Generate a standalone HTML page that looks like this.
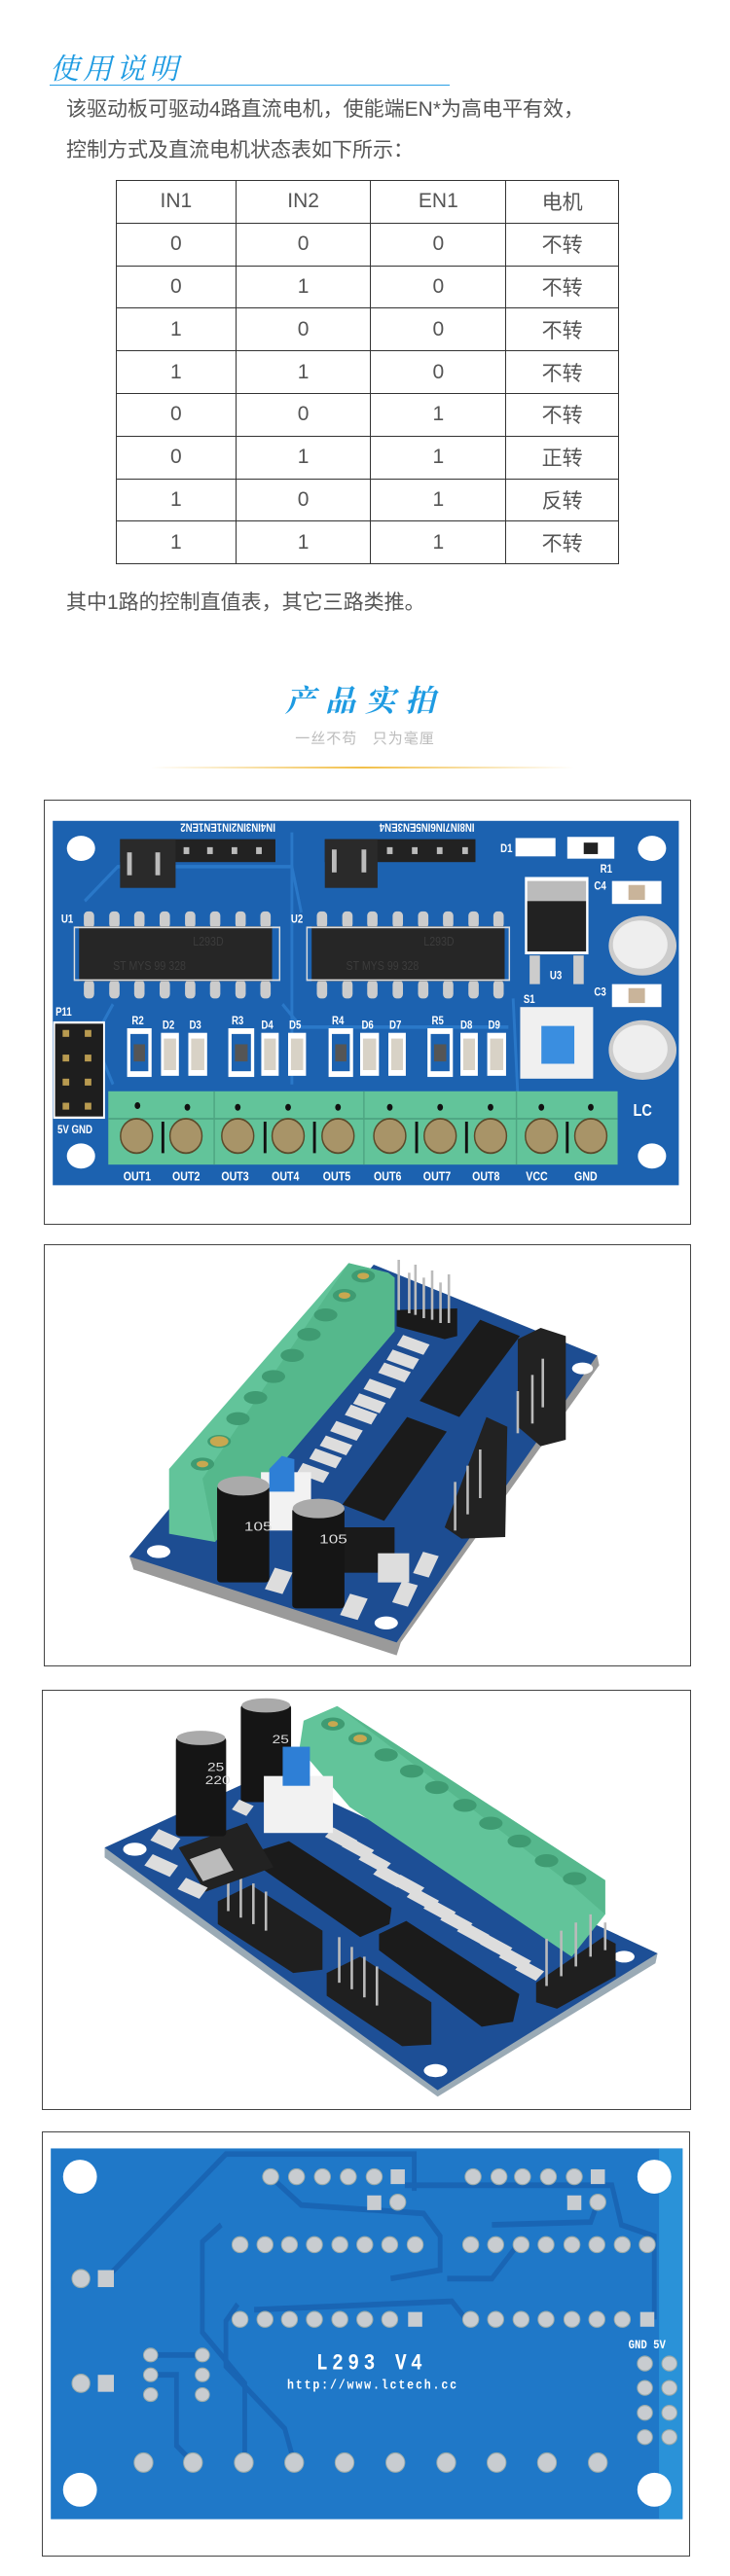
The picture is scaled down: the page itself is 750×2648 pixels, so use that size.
<!DOCTYPE html>
<html><head><meta charset="utf-8"><style>
*{margin:0;padding:0;box-sizing:border-box}
body{width:750px;height:2648px;background:#fff;position:relative;overflow:hidden;font-family:"Liberation Sans","Noto Sans CJK SC",sans-serif}
.a{position:absolute}
.h1{left:51px;top:50px;font-size:30px;color:#1e9be2;letter-spacing:4px;font-family:"Noto Serif CJK SC","Noto Sans CJK SC",serif;font-style:italic;line-height:36px}
.ul{left:51px;top:87px;width:411px;height:1px;background:#2aa0e6}
.p{left:68px;font-size:21px;color:#555;line-height:42px;white-space:nowrap}
table{position:absolute;left:119px;top:185px;width:517px;border-collapse:collapse}
td{border:1px solid #333;height:43.8px;text-align:center;font-size:21px;color:#555;padding:0}
.box{position:absolute;border:1.5px solid #444}
svg{position:absolute}
</style></head><body>
<div class="a h1">使用说明</div>
<div class="a ul"></div>
<div class="a p" style="top:92px">该驱动板可驱动4路直流电机，使能端EN*为高电平有效，</div>
<div class="a p" style="top:134px">控制方式及直流电机状态表如下所示：</div>
<table>
<colgroup><col style="width:123px"><col style="width:139px"><col style="width:139px"><col style="width:116px"></colgroup>
<tr><td>IN1</td><td>IN2</td><td>EN1</td><td>电机</td></tr>
<tr><td>0</td><td>0</td><td>0</td><td>不转</td></tr>
<tr><td>0</td><td>1</td><td>0</td><td>不转</td></tr>
<tr><td>1</td><td>0</td><td>0</td><td>不转</td></tr>
<tr><td>1</td><td>1</td><td>0</td><td>不转</td></tr>
<tr><td>0</td><td>0</td><td>1</td><td>不转</td></tr>
<tr><td>0</td><td>1</td><td>1</td><td>正转</td></tr>
<tr><td>1</td><td>0</td><td>1</td><td>反转</td></tr>
<tr><td>1</td><td>1</td><td>1</td><td>不转</td></tr>
</table>
<div class="a p" style="top:599px">其中1路的控制直值表，其它三路类推。</div>
<div class="a" style="left:0;width:750px;top:698px;text-align:center;font-size:31px;color:#1e9be2;letter-spacing:10px;font-family:'Noto Serif CJK SC','Noto Sans CJK SC',serif;font-style:italic;font-weight:bold;line-height:40px">产品实拍</div>
<div class="a" style="left:0;width:750px;top:750px;text-align:center;font-size:15px;color:#bbb;line-height:20px;letter-spacing:1px">一丝不苟&nbsp;&nbsp;&nbsp;只为毫厘</div>
<div class="a" style="left:155px;top:788px;width:435px;height:2px;background:linear-gradient(90deg,rgba(245,200,80,0),#f2c04a 50%,rgba(245,200,80,0))"></div>

<!-- Box 1 -->
<div class="box" style="left:45px;top:822px;width:665px;height:437px"></div>
<svg style="left:45px;top:822px" width="665" height="437" viewBox="93 3 1375 742" preserveAspectRatio="none">
<rect x="112" y="40" width="1330" height="636" fill="#1c62b0"/>
<g fill="none" stroke="#2a78c8" stroke-width="6"><path d="M180 180 L250 120 L620 120 L640 200"/><path d="M600 360 L640 400 L1080 400"/><path d="M240 360 L200 420 L240 500"/><path d="M1090 350 L1100 520"/><path d="M620 60 L620 500"/></g>
<g fill="#fff"><ellipse cx="172" cy="88" rx="30" ry="22"/><ellipse cx="1385" cy="88" rx="30" ry="22"/><ellipse cx="172" cy="625" rx="30" ry="22"/><ellipse cx="1385" cy="625" rx="30" ry="22"/></g>
<g fill="#fff" font-size="20" font-family="Liberation Sans" font-weight="bold">
<text transform="translate(585,45) rotate(180)" x="0" y="0">IN4IN3IN2IN1EN1EN2</text>
<text transform="translate(1008,45) rotate(180)">IN8IN7IN6IN5EN3EN4</text>
<text x="130" y="218">U1</text><text x="618" y="218">U2</text><text x="1168" y="316">U3</text><text x="1112" y="358">S1</text>
<text x="118" y="380">P11</text><text x="1262" y="160">C4</text><text x="1262" y="345">C3</text><text x="1275" y="130">R1</text><text x="1063" y="95">D1</text>
<text x="280" y="395">R2</text><text x="345" y="403">D2</text><text x="402" y="403">D3</text>
<text x="492" y="395">R3</text><text x="555" y="403">D4</text><text x="614" y="403">D5</text>
<text x="705" y="395">R4</text><text x="768" y="403">D6</text><text x="827" y="403">D7</text>
<text x="917" y="395">R5</text><text x="978" y="403">D8</text><text x="1037" y="403">D9</text>
<text x="122" y="585">5V GND</text>
<g font-size="22"><text x="262" y="668">OUT1</text><text x="366" y="668">OUT2</text><text x="470" y="668">OUT3</text><text x="577" y="668">OUT4</text><text x="686" y="668">OUT5</text><text x="794" y="668">OUT6</text><text x="899" y="668">OUT7</text><text x="1003" y="668">OUT8</text><text x="1117" y="668">VCC</text><text x="1220" y="668">GND</text></g>
<text x="1345" y="555" font-size="30">LC</text>
</g>
<!-- headers -->
<rect x="255" y="72" width="330" height="40" fill="#222"/><rect x="255" y="72" width="118" height="85" fill="#2a2a2a"/>
<rect x="690" y="72" width="320" height="40" fill="#222"/><rect x="690" y="72" width="112" height="85" fill="#2a2a2a"/>
<g fill="#bbb"><rect x="390" y="86" width="12" height="12"/><rect x="440" y="86" width="12" height="12"/><rect x="492" y="86" width="12" height="12"/><rect x="544" y="86" width="12" height="12"/><rect x="822" y="86" width="12" height="12"/><rect x="875" y="86" width="12" height="12"/><rect x="928" y="86" width="12" height="12"/><rect x="982" y="86" width="12" height="12"/>
<rect x="270" y="95" width="10" height="40"/><rect x="330" y="95" width="10" height="40"/><rect x="705" y="90" width="10" height="40"/><rect x="768" y="90" width="10" height="40"/></g>
<!-- chips -->
<g fill="#ccc">
<rect x="178" y="198" width="22" height="30" rx="8"/><rect x="232" y="198" width="22" height="30" rx="8"/><rect x="285" y="198" width="22" height="30" rx="8"/><rect x="339" y="198" width="22" height="30" rx="8"/><rect x="393" y="198" width="22" height="30" rx="8"/><rect x="446" y="198" width="22" height="30" rx="8"/><rect x="500" y="198" width="22" height="30" rx="8"/><rect x="553" y="198" width="22" height="30" rx="8"/>
<rect x="178" y="318" width="22" height="32" rx="8"/><rect x="232" y="318" width="22" height="32" rx="8"/><rect x="285" y="318" width="22" height="32" rx="8"/><rect x="339" y="318" width="22" height="32" rx="8"/><rect x="393" y="318" width="22" height="32" rx="8"/><rect x="446" y="318" width="22" height="32" rx="8"/><rect x="500" y="318" width="22" height="32" rx="8"/><rect x="553" y="318" width="22" height="32" rx="8"/>
<rect x="673" y="198" width="22" height="30" rx="8"/><rect x="727" y="198" width="22" height="30" rx="8"/><rect x="780" y="198" width="22" height="30" rx="8"/><rect x="834" y="198" width="22" height="30" rx="8"/><rect x="888" y="198" width="22" height="30" rx="8"/><rect x="941" y="198" width="22" height="30" rx="8"/><rect x="995" y="198" width="22" height="30" rx="8"/><rect x="1048" y="198" width="22" height="30" rx="8"/>
<rect x="673" y="318" width="22" height="32" rx="8"/><rect x="727" y="318" width="22" height="32" rx="8"/><rect x="780" y="318" width="22" height="32" rx="8"/><rect x="834" y="318" width="22" height="32" rx="8"/><rect x="888" y="318" width="22" height="32" rx="8"/><rect x="941" y="318" width="22" height="32" rx="8"/><rect x="995" y="318" width="22" height="32" rx="8"/><rect x="1048" y="318" width="22" height="32" rx="8"/>
</g>
<rect x="168" y="224" width="410" height="96" fill="#262626"/><rect x="662" y="224" width="410" height="96" fill="#262626"/>
<g fill="none" stroke="#ddd" stroke-width="3"><rect x="158" y="226" width="436" height="92"/><rect x="652" y="226" width="430" height="92"/></g>
<g fill="#3c3c3c" font-size="22" font-family="Liberation Sans"><text x="410" y="258">L293D</text><text x="900" y="258">L293D</text><text x="240" y="300">ST  MYS 99 328</text><text x="735" y="300">ST  MYS 99 328</text></g>
<!-- regulator -->
<rect x="1115" y="138" width="135" height="135" fill="#fff"/><rect x="1120" y="145" width="125" height="35" fill="#bbb"/><rect x="1120" y="180" width="125" height="88" fill="#222"/>
<rect x="1125" y="275" width="22" height="50" fill="#ccc"/><rect x="1218" y="275" width="22" height="50" fill="#ccc"/>
<!-- caps -->
<ellipse cx="1365" cy="258" rx="72" ry="52" fill="#ccc"/><ellipse cx="1360" cy="256" rx="58" ry="42" fill="#eee"/>
<ellipse cx="1365" cy="440" rx="72" ry="52" fill="#ccc"/><ellipse cx="1360" cy="438" rx="58" ry="42" fill="#eee"/>
<g fill="#fff"><rect x="1300" y="145" width="105" height="40"/><rect x="1300" y="325" width="105" height="40"/><rect x="1095" y="70" width="85" height="32"/><rect x="1205" y="68" width="100" height="38"/></g>
<g fill="#c9b49a"><rect x="1335" y="152" width="35" height="26"/><rect x="1335" y="332" width="35" height="26"/></g><rect x="1240" y="78" width="30" height="20" fill="#222"/>
<!-- switch -->
<rect x="1105" y="365" width="155" height="125" fill="#f0f0f0"/><rect x="1150" y="398" width="70" height="66" fill="#3a8ee0"/>
<!-- P11 -->
<rect x="113" y="390" width="110" height="170" fill="#fff"/><rect x="117" y="394" width="102" height="162" fill="#1e1e1e"/>
<g fill="#b89a50"><rect x="133" y="405" width="14" height="12"/><rect x="180" y="405" width="14" height="12"/><rect x="133" y="448" width="14" height="12"/><rect x="180" y="448" width="14" height="12"/><rect x="133" y="490" width="14" height="12"/><rect x="180" y="490" width="14" height="12"/><rect x="133" y="532" width="14" height="12"/><rect x="180" y="532" width="14" height="12"/></g>
<!-- small parts -->
<g fill="#fff">
<rect x="270" y="402" width="52" height="85"/><rect x="342" y="410" width="38" height="75"/><rect x="400" y="410" width="40" height="75"/>
<rect x="485" y="402" width="55" height="85"/><rect x="555" y="410" width="37" height="75"/><rect x="612" y="410" width="38" height="75"/>
<rect x="698" y="402" width="52" height="85"/><rect x="765" y="410" width="40" height="75"/><rect x="825" y="410" width="37" height="75"/>
<rect x="908" y="402" width="54" height="85"/><rect x="978" y="410" width="37" height="75"/><rect x="1035" y="410" width="40" height="75"/>
</g>
<g fill="#1c62b0"><rect x="277" y="412" width="38" height="65"/><rect x="492" y="412" width="41" height="65"/><rect x="705" y="412" width="38" height="65"/><rect x="915" y="412" width="40" height="65"/></g>
<g fill="#555"><rect x="284" y="430" width="24" height="30"/><rect x="499" y="430" width="27" height="30"/><rect x="712" y="430" width="24" height="30"/><rect x="922" y="430" width="26" height="30"/></g>
<g fill="#d8d2c6"><rect x="348" y="420" width="26" height="55"/><rect x="406" y="420" width="28" height="55"/><rect x="561" y="420" width="25" height="55"/><rect x="618" y="420" width="26" height="55"/><rect x="771" y="420" width="28" height="55"/><rect x="831" y="420" width="25" height="55"/><rect x="984" y="420" width="25" height="55"/><rect x="1041" y="420" width="28" height="55"/></g>
<!-- terminal block -->
<rect x="230" y="512" width="1082" height="128" fill="#62c49a"/>
<g stroke="#4ea582" stroke-width="3"><line x1="455" y1="512" x2="455" y2="640"/><line x1="773" y1="512" x2="773" y2="640"/><line x1="1097" y1="512" x2="1097" y2="640"/><line x1="230" y1="560" x2="1312" y2="560"/></g>
<g fill="#111"><circle cx="292" cy="537" r="6"/><circle cx="398" cy="540" r="6"/><circle cx="505" cy="540" r="6"/><circle cx="612" cy="540" r="6"/><circle cx="718" cy="540" r="6"/><circle cx="828" cy="540" r="6"/><circle cx="935" cy="540" r="6"/><circle cx="1042" cy="540" r="6"/><circle cx="1150" cy="540" r="6"/><circle cx="1255" cy="540" r="6"/>
<rect x="343" y="565" width="6" height="55"/><rect x="560" y="565" width="6" height="55"/><rect x="665" y="565" width="6" height="55"/><rect x="882" y="565" width="6" height="55"/><rect x="988" y="565" width="6" height="55"/><rect x="1202" y="565" width="6" height="55"/></g>
<g fill="#a89468" stroke="#5a4a2a" stroke-width="3"><ellipse cx="290" cy="590" rx="34" ry="30"/><ellipse cx="395" cy="590" rx="34" ry="30"/><ellipse cx="505" cy="590" rx="34" ry="30"/><ellipse cx="612" cy="590" rx="34" ry="30"/><ellipse cx="718" cy="590" rx="34" ry="30"/><ellipse cx="828" cy="590" rx="34" ry="30"/><ellipse cx="935" cy="590" rx="34" ry="30"/><ellipse cx="1042" cy="590" rx="34" ry="30"/><ellipse cx="1150" cy="590" rx="34" ry="30"/><ellipse cx="1255" cy="590" rx="34" ry="30"/></g>
</svg>

<!-- Box 2 -->
<div class="box" style="left:45px;top:1279px;width:665px;height:434px"></div>
<svg style="left:45px;top:1280px" width="665" height="440" viewBox="0 0 1550 1320" preserveAspectRatio="none">
<polygon points="205,960 215,1000 845,1265 855,1225 1330,370 1325,340 790,65" fill="#9a9a9a"/>
<polygon points="205,960 845,1225 1325,340 790,60" fill="#1d4d92"/>
<g fill="#fff"><ellipse cx="275" cy="945" rx="28" ry="20"/><ellipse cx="820" cy="1165" rx="28" ry="20"/><ellipse cx="1290" cy="380" rx="25" ry="18"/></g>
<g fill="#ddd"><rect x="850" y="290" width="70" height="35" transform="rotate(25 885 307)"/><rect x="825" y="335" width="70" height="35" transform="rotate(25 860 352)"/><rect x="805" y="375" width="70" height="35" transform="rotate(25 840 392)"/><rect x="770" y="425" width="70" height="35" transform="rotate(25 805 442)"/><rect x="745" y="470" width="70" height="35" transform="rotate(25 780 487)"/><rect x="725" y="505" width="70" height="35" transform="rotate(25 760 522)"/><rect x="690" y="555" width="70" height="35" transform="rotate(25 725 572)"/><rect x="665" y="600" width="70" height="35" transform="rotate(25 700 617)"/><rect x="640" y="640" width="70" height="35" transform="rotate(25 675 657)"/><rect x="610" y="685" width="70" height="35" transform="rotate(25 645 702)"/></g>
<polygon points="300,690 730,55 825,85 840,100 840,265 410,915 300,890" fill="#62c49a"/>
<polygon points="730,55 825,85 840,100 840,265 410,915 380,720" fill="#55b88c"/>
<g fill="#3f9b72"><ellipse cx="765" cy="95" rx="28" ry="20"/><ellipse cx="720" cy="155" rx="28" ry="20"/><ellipse cx="675" cy="215" rx="28" ry="20"/><ellipse cx="635" cy="275" rx="28" ry="20"/><ellipse cx="595" cy="340" rx="28" ry="20"/><ellipse cx="550" cy="405" rx="28" ry="20"/><ellipse cx="507" cy="470" rx="28" ry="20"/><ellipse cx="465" cy="535" rx="28" ry="20"/><ellipse cx="420" cy="605" rx="28" ry="20"/><ellipse cx="380" cy="675" rx="28" ry="20"/></g>
<g fill="#c8a850"><ellipse cx="765" cy="95" rx="14" ry="10"/><ellipse cx="720" cy="155" rx="14" ry="10"/><ellipse cx="420" cy="605" rx="22" ry="16"/><ellipse cx="380" cy="675" rx="14" ry="10"/></g>
<polygon points="845,200 990,195 990,280 960,290 845,250" fill="#1a1a1a"/>
<g stroke="#bbb" stroke-width="6"><line x1="850" y1="45" x2="850" y2="200"/><line x1="875" y1="85" x2="875" y2="210"/><line x1="890" y1="60" x2="890" y2="215"/><line x1="910" y1="100" x2="910" y2="225"/><line x1="930" y1="78" x2="930" y2="230"/><line x1="950" y1="115" x2="950" y2="240"/><line x1="970" y1="90" x2="970" y2="240"/></g>
<polygon points="900,480 1045,230 1140,280 995,530" fill="#1b1b1b"/>
<polygon points="715,800 870,530 965,575 815,850" fill="#1b1b1b"/>
<polygon points="1135,290 1190,255 1250,280 1250,600 1190,620 1135,560" fill="#222"/>
<polygon points="960,870 1060,530 1110,560 1105,900 1000,905" fill="#222"/>
<g stroke="#bbb" stroke-width="6"><line x1="1135" y1="450" x2="1135" y2="580"/><line x1="1170" y1="400" x2="1170" y2="550"/><line x1="1195" y1="350" x2="1195" y2="500"/><line x1="985" y1="730" x2="985" y2="880"/><line x1="1015" y1="680" x2="1015" y2="830"/><line x1="1045" y1="630" x2="1045" y2="780"/></g>
<rect x="520" y="700" width="120" height="180" fill="#f2f2f2"/><polygon points="540,690 570,650 600,660 600,760 540,760" fill="#2e7fd6"/>
<rect x="715" y="870" width="125" height="140" fill="#1a1a1a"/><rect x="800" y="950" width="75" height="90" fill="#ddd"/>
<rect x="415" y="740" width="125" height="300" rx="10" fill="#151515"/><ellipse cx="478" cy="742" rx="62" ry="30" fill="#aaa"/>
<rect x="595" y="810" width="125" height="310" rx="10" fill="#151515"/><ellipse cx="658" cy="812" rx="62" ry="30" fill="#aaa"/>
<g fill="#ddd" font-size="40" font-family="Liberation Sans"><text x="480" y="880">105</text><text x="660" y="920">105</text></g>
<g fill="#ddd"><rect x="540" y="1000" width="45" height="70" transform="rotate(20 562 1035)"/><rect x="720" y="1080" width="45" height="70" transform="rotate(20 742 1115)"/><rect x="845" y="1040" width="40" height="70" transform="rotate(20 865 1075)"/><rect x="895" y="950" width="40" height="70" transform="rotate(20 915 985)"/></g>
</svg>

<!-- Box 3 -->
<div class="box" style="left:43px;top:1737px;width:667px;height:432px"></div>
<svg style="left:43px;top:1737px" width="667" height="435" viewBox="0 0 1550 1300" preserveAspectRatio="none">
<polygon points="150,485 150,515 945,1250 1465,840 1470,810 540,255" fill="#9aaab5"/>
<polygon points="150,485 945,1230 1470,810 540,255" fill="#1d4f96"/>
<g fill="#fff"><ellipse cx="222" cy="490" rx="28" ry="20"/><ellipse cx="940" cy="1170" rx="28" ry="20"/><ellipse cx="1390" cy="820" rx="25" ry="18"/></g>
<polygon points="615,180 625,95 705,50 1345,585 1345,690 1265,820 735,360" fill="#62c49a"/>
<polygon points="705,50 1345,585 1345,690 1265,600" fill="#56b88d"/>
<g fill="#3f9b72"><ellipse cx="695" cy="105" rx="28" ry="20"/><ellipse cx="760" cy="150" rx="28" ry="20"/><ellipse cx="822" cy="200" rx="28" ry="20"/><ellipse cx="883" cy="250" rx="28" ry="20"/><ellipse cx="943" cy="300" rx="28" ry="20"/><ellipse cx="1010" cy="355" rx="28" ry="20"/><ellipse cx="1072" cy="410" rx="28" ry="20"/><ellipse cx="1140" cy="465" rx="28" ry="20"/><ellipse cx="1205" cy="525" rx="28" ry="20"/><ellipse cx="1272" cy="580" rx="28" ry="20"/></g>
<g fill="#c8a850"><ellipse cx="760" cy="150" rx="16" ry="12"/><ellipse cx="695" cy="105" rx="12" ry="9"/></g>
<g fill="#ddd"><rect x="680" y="440" width="70" height="35" transform="rotate(35 715 457)"/><rect x="720" y="470" width="70" height="35" transform="rotate(35 755 487)"/><rect x="760" y="510" width="70" height="35" transform="rotate(35 795 527)"/><rect x="795" y="555" width="70" height="35" transform="rotate(35 830 572)"/><rect x="840" y="585" width="70" height="35" transform="rotate(35 875 602)"/><rect x="875" y="625" width="70" height="35" transform="rotate(35 910 642)"/><rect x="915" y="660" width="70" height="35" transform="rotate(35 950 677)"/><rect x="955" y="695" width="70" height="35" transform="rotate(35 990 712)"/><rect x="995" y="730" width="70" height="35" transform="rotate(35 1030 747)"/><rect x="1050" y="770" width="70" height="35" transform="rotate(35 1085 787)"/><rect x="1095" y="810" width="70" height="35" transform="rotate(35 1130 827)"/><rect x="1135" y="845" width="60" height="35" transform="rotate(35 1165 862)"/></g>
<polygon points="515,495 590,465 835,670 830,720 760,760 515,540" fill="#1b1b1b"/>
<polygon points="805,750 870,710 1140,935 1125,1020 1050,1035 805,800" fill="#1b1b1b"/>
<polygon points="420,650 500,600 670,740 670,860 600,870 420,720" fill="#1f1f1f"/>
<polygon points="680,870 760,820 930,960 930,1090 860,1095 680,940" fill="#1f1f1f"/>
<polygon points="1180,900 1340,760 1370,780 1370,880 1230,980 1180,960" fill="#1f1f1f"/>
<g stroke="#bbb" stroke-width="6"><line x1="445" y1="545" x2="445" y2="680"/><line x1="475" y1="570" x2="475" y2="700"/><line x1="505" y1="595" x2="505" y2="720"/><line x1="535" y1="620" x2="535" y2="740"/><line x1="710" y1="760" x2="710" y2="900"/><line x1="740" y1="790" x2="740" y2="920"/><line x1="770" y1="820" x2="770" y2="945"/><line x1="800" y1="850" x2="800" y2="970"/><line x1="1205" y1="765" x2="1205" y2="910"/><line x1="1240" y1="740" x2="1240" y2="880"/><line x1="1275" y1="715" x2="1275" y2="850"/><line x1="1310" y1="690" x2="1310" y2="820"/><line x1="1345" y1="715" x2="1345" y2="800"/></g>
<rect x="350" y="440" width="180" height="150" fill="#222" transform="rotate(-25 440 515)"/><rect x="365" y="500" width="80" height="75" fill="#bbb" transform="rotate(-25 405 537)"/>
<rect x="320" y="145" width="120" height="305" rx="10" fill="#151515"/><ellipse cx="380" cy="148" rx="58" ry="22" fill="#aaa"/>
<rect x="475" y="45" width="120" height="300" rx="10" fill="#151515"/><ellipse cx="535" cy="48" rx="58" ry="22" fill="#aaa"/>
<g fill="#ddd" font-size="36" font-family="Liberation Sans"><text x="395" y="250">25</text><text x="390" y="290">220</text><text x="550" y="165">25</text></g>
<rect x="530" y="265" width="165" height="175" fill="#f2f2f2"/><rect x="575" y="175" width="65" height="120" fill="#2e7fd6"/>
<g fill="#ddd"><rect x="265" y="440" width="60" height="40" transform="rotate(30 295 460)"/><rect x="250" y="520" width="70" height="40" transform="rotate(30 285 540)"/><rect x="330" y="590" width="60" height="40" transform="rotate(30 360 610)"/><rect x="460" y="345" width="40" height="35" transform="rotate(30 480 362)"/></g>
</svg>

<!-- Box 4 -->
<div class="box" style="left:43px;top:2191px;width:666px;height:437px"></div>
<svg style="left:43px;top:2191px" width="666" height="437" viewBox="89 775 1377 751" preserveAspectRatio="none">
<rect x="108" y="805" width="1342" height="655" fill="#1f78c8"/>
<rect x="1400" y="805" width="50" height="655" fill="#2a92d8"/>
<g fill="none" stroke="#1965b4" stroke-width="10">
<path d="M225 1035 L480 815 L880 815 L880 880"/><path d="M575 855 L640 905 L900 920 L935 960 L935 1020 L830 1035"/>
<path d="M470 940 L430 970 L430 1130 L520 1220 L520 1360"/><path d="M505 1080 L480 1110 L480 1190 L605 1300 L625 1360"/>
<path d="M540 1090 L960 1075 L990 1107"/><path d="M950 1035 L1045 1035 L1100 975"/><path d="M1045 940 L1255 935 L1270 900"/>
<path d="M320 1170 L430 1170"/><path d="M320 1205 L375 1205 L375 1330 L410 1360"/><path d="M860 870 L1300 870 L1320 940 L1390 960 L1390 1107"/>
</g>
<g fill="#fff"><ellipse cx="170" cy="855" rx="36" ry="30"/><ellipse cx="1390" cy="855" rx="36" ry="30"/><ellipse cx="170" cy="1408" rx="36" ry="30"/><ellipse cx="1390" cy="1408" rx="36" ry="30"/></g>
<g fill="#c8ccd0" stroke="#9aa" stroke-width="2">
<ellipse cx="575" cy="855" rx="17" ry="14"/><ellipse cx="630" cy="855" rx="17" ry="14"/><ellipse cx="685" cy="855" rx="17" ry="14"/><ellipse cx="740" cy="855" rx="17" ry="14"/><ellipse cx="795" cy="855" rx="17" ry="14"/>
<ellipse cx="1005" cy="855" rx="17" ry="14"/><ellipse cx="1060" cy="855" rx="17" ry="14"/><ellipse cx="1110" cy="855" rx="17" ry="14"/><ellipse cx="1165" cy="855" rx="17" ry="14"/><ellipse cx="1220" cy="855" rx="17" ry="14"/>
<ellipse cx="845" cy="900" rx="17" ry="14"/><ellipse cx="1270" cy="900" rx="17" ry="14"/>
<ellipse cx="510" cy="975" rx="17" ry="14"/><ellipse cx="563" cy="975" rx="17" ry="14"/><ellipse cx="615" cy="975" rx="17" ry="14"/><ellipse cx="668" cy="975" rx="17" ry="14"/><ellipse cx="722" cy="975" rx="17" ry="14"/><ellipse cx="775" cy="975" rx="17" ry="14"/><ellipse cx="828" cy="975" rx="17" ry="14"/><ellipse cx="882" cy="975" rx="17" ry="14"/>
<ellipse cx="1000" cy="975" rx="17" ry="14"/><ellipse cx="1053" cy="975" rx="17" ry="14"/><ellipse cx="1107" cy="975" rx="17" ry="14"/><ellipse cx="1160" cy="975" rx="17" ry="14"/><ellipse cx="1215" cy="975" rx="17" ry="14"/><ellipse cx="1268" cy="975" rx="17" ry="14"/><ellipse cx="1322" cy="975" rx="17" ry="14"/><ellipse cx="1375" cy="975" rx="17" ry="14"/>
<ellipse cx="510" cy="1107" rx="17" ry="14"/><ellipse cx="563" cy="1107" rx="17" ry="14"/><ellipse cx="615" cy="1107" rx="17" ry="14"/><ellipse cx="668" cy="1107" rx="17" ry="14"/><ellipse cx="722" cy="1107" rx="17" ry="14"/><ellipse cx="775" cy="1107" rx="17" ry="14"/><ellipse cx="828" cy="1107" rx="17" ry="14"/>
<ellipse cx="1000" cy="1107" rx="17" ry="14"/><ellipse cx="1053" cy="1107" rx="17" ry="14"/><ellipse cx="1107" cy="1107" rx="17" ry="14"/><ellipse cx="1160" cy="1107" rx="17" ry="14"/><ellipse cx="1215" cy="1107" rx="17" ry="14"/><ellipse cx="1268" cy="1107" rx="17" ry="14"/><ellipse cx="1322" cy="1107" rx="17" ry="14"/>
<ellipse cx="172" cy="1035" rx="19" ry="16"/><ellipse cx="172" cy="1220" rx="19" ry="16"/>
<ellipse cx="320" cy="1170" rx="15" ry="12"/><ellipse cx="430" cy="1170" rx="15" ry="12"/><ellipse cx="320" cy="1205" rx="15" ry="12"/><ellipse cx="430" cy="1205" rx="15" ry="12"/><ellipse cx="320" cy="1240" rx="15" ry="12"/><ellipse cx="430" cy="1240" rx="15" ry="12"/>
<ellipse cx="1370" cy="1185" rx="16" ry="13"/><ellipse cx="1422" cy="1185" rx="16" ry="13"/><ellipse cx="1370" cy="1228" rx="16" ry="13"/><ellipse cx="1422" cy="1228" rx="16" ry="13"/><ellipse cx="1370" cy="1272" rx="16" ry="13"/><ellipse cx="1422" cy="1272" rx="16" ry="13"/><ellipse cx="1370" cy="1315" rx="16" ry="13"/><ellipse cx="1422" cy="1315" rx="16" ry="13"/>
<ellipse cx="305" cy="1360" rx="20" ry="17"/><ellipse cx="410" cy="1360" rx="20" ry="17"/><ellipse cx="518" cy="1360" rx="20" ry="17"/><ellipse cx="625" cy="1360" rx="20" ry="17"/><ellipse cx="732" cy="1360" rx="20" ry="17"/><ellipse cx="840" cy="1360" rx="20" ry="17"/><ellipse cx="948" cy="1360" rx="20" ry="17"/><ellipse cx="1055" cy="1360" rx="20" ry="17"/><ellipse cx="1162" cy="1360" rx="20" ry="17"/><ellipse cx="1270" cy="1360" rx="20" ry="17"/>
</g>
<g fill="#c8ccd0"><rect x="830" y="842" width="30" height="26"/><rect x="1255" y="842" width="30" height="26"/><rect x="780" y="888" width="30" height="26"/><rect x="1205" y="888" width="30" height="26"/><rect x="867" y="1094" width="30" height="26"/><rect x="1360" y="1094" width="30" height="26"/><rect x="208" y="1020" width="34" height="30"/><rect x="208" y="1205" width="34" height="30"/></g>
<g fill="#fff" font-family="Liberation Mono" font-weight="bold"><text x="672" y="1195" font-size="40" textLength="225">L293 V4</text><text x="610" y="1230" font-size="24" textLength="360">http://www.lctech.cc</text><text x="1335" y="1158" font-size="22">GND 5V</text></g>
</svg>
</body></html>
